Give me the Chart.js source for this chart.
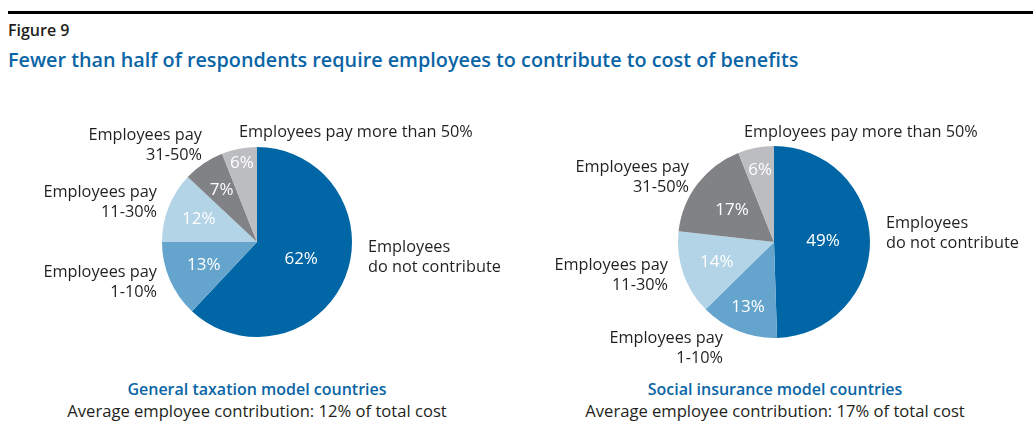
<!DOCTYPE html>
<html>
<head>
<meta charset="utf-8">
<script src="https://cdn.jsdelivr.net/npm/chart.js@4"></script>
<style>
  body { margin: 0; width: 1033px; height: 444px; background: #fff; position: relative; overflow: hidden; font-family: "Open Sans", sans-serif; color: #231f20; }
  .rule { position: absolute; left: 8px; right: 0; top: 11px; height: 3px; background: #000; }
  .fig { position: absolute; left: 8px; top: 20px; font-size: 16px; line-height: 20px; font-weight: 600; }
  .title { position: absolute; left: 8px; top: 48px; font-size: 19.8px; line-height: 24px; font-weight: 600; color: #0a65a6; white-space: nowrap; }
  .cap { position: absolute; text-align: center; font-size: 16.6px; line-height: 22px; white-space: nowrap; }
  .cap b { font-weight: 600; color: #0a65a6; font-size: 16px; }
  canvas { position: absolute; top: 100px; }
</style>
</head>
<body>
<div class="rule"></div>
<div class="fig">Figure 9</div>
<div class="title">Fewer than half of respondents require employees to contribute to cost of benefits</div>
<canvas id="leftPie" width="516" height="270" style="left:0"></canvas>
<canvas id="rightPie" width="517" height="270" style="left:516px"></canvas>
<div class="cap" style="left:0;width:514px;top:378px"><b>General taxation model countries</b><br>Average employee contribution: 12% of total cost</div>
<div class="cap" style="left:516px;width:518px;top:378px"><b>Social insurance model countries</b><br>Average employee contribution: 17% of total cost</div>
<script>
// Data
const categories = [
  "Employees do not contribute",
  "Employees pay 1-10%",
  "Employees pay 11-30%",
  "Employees pay 31-50%",
  "Employees pay more than 50%",
];
const generalTaxation = [62, 13, 12, 7, 6];
const socialInsurance = [49, 13, 14, 17, 6];

const sliceColors = ["#0066a6", "#65a5cd", "#b3d3e6", "#808285", "#bcbdc0"];

// Draw the % values inside the slices and the category names outside
const pieLabels = {
  id: "pieLabels",
  afterDatasetsDraw(chart, args, opts) {
    const ctx = chart.ctx;
    const meta = chart.getDatasetMeta(0);
    const values = chart.data.datasets[0].data;
    ctx.save();
    ctx.textBaseline = "middle";
    meta.data.forEach((arc, i) => {
      const { x, y, startAngle, endAngle, outerRadius } = arc.getProps(
        ["x", "y", "startAngle", "endAngle", "outerRadius"], true);
      const mid = (startAngle + endAngle) / 2;
      const r = outerRadius * opts.valueRadius[i];
      ctx.font = '17px "Open Sans"';
      ctx.fillStyle = "#fff";
      ctx.textAlign = "center";
      ctx.fillText(values[i] + "%", x + Math.cos(mid) * r, y + Math.sin(mid) * r);

      const lab = opts.outside[i];
      ctx.font = '16.3px "Open Sans"';
      ctx.fillStyle = "#231f20";
      ctx.textAlign = lab.align;
      lab.lines.forEach((line, k) => ctx.fillText(line, x + lab.dx, y + lab.dy + k * 20));
    });
    ctx.restore();
  },
};

const makePie = (id, values, padding, valueRadius, outside) =>
  new Chart(document.getElementById(id), {
    type: "pie",
    data: {
      labels: categories,
      datasets: [{ data: values, backgroundColor: sliceColors, borderWidth: 0 }],
    },
    options: {
      responsive: false,
      animation: false,
      layout: { padding },
      plugins: {
        legend: { display: false },
        tooltip: { enabled: false },
        pieLabels: { valueRadius, outside },
      },
    },
    plugins: [pieLabels],
  });

makePie("leftPie", generalTaxation,
  { left: 162, right: 164, top: 47, bottom: 33 },
  [0.5, 0.61, 0.66, 0.66, 0.85],
  [
    { lines: ["Employees", "do not contribute"], dx: 111, dy: 5, align: "left" },
    { lines: ["Employees pay", "1-10%"], dx: -100, dy: 30, align: "right" },
    { lines: ["Employees pay", "11-30%"], dx: -100, dy: -50, align: "right" },
    { lines: ["Employees pay", "31-50%"], dx: -55, dy: -107, align: "right" },
    { lines: ["Employees pay more than 50%"], dx: -18, dy: -110, align: "left" },
  ]);

makePie("rightPie", socialInsurance,
  { left: 162, right: 163, top: 46, bottom: 32 },
  [0.51, 0.73, 0.63, 0.55, 0.76],
  [
    { lines: ["Employees", "do not contribute"], dx: 112, dy: -19, align: "left" },
    { lines: ["Employees pay", "1-10%"], dx: -51, dy: 96, align: "right" },
    { lines: ["Employees pay", "11-30%"], dx: -106, dy: 23, align: "right" },
    { lines: ["Employees pay", "31-50%"], dx: -85, dy: -75, align: "right" },
    { lines: ["Employees pay more than 50%"], dx: -30, dy: -110, align: "left" },
  ]);
</script>
</body>
</html>
